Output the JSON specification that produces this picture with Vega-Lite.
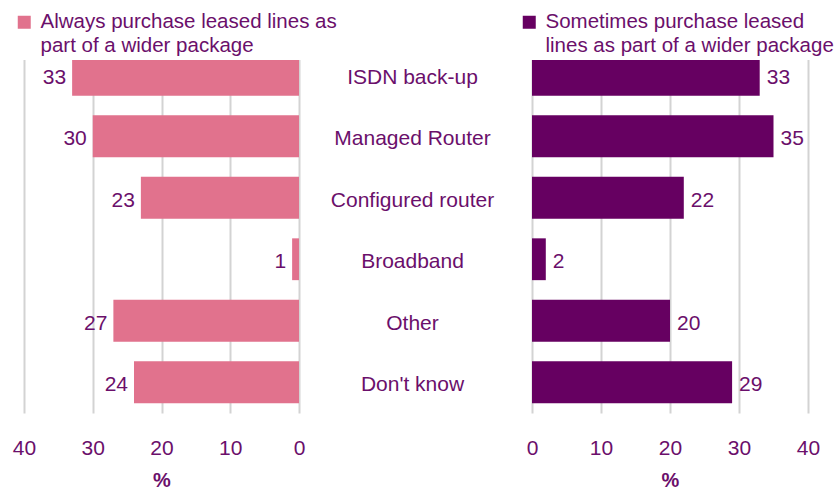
{
  "$schema": "https://vega.github.io/schema/vega-lite/v6.json",
  "padding": {"left": 11, "top": 9, "right": 0, "bottom": 0},
  "background": "white",
  "bounds": "flush",
  "spacing": 0,
  "config": {
    "font": "Liberation Sans",
    "view": {"stroke": null},
    "style": {"guide-label": {"lineHeight": 24}}
  },
  "data": {
    "values": [
      {"category": "ISDN back-up", "always": 33, "sometimes": 33},
      {"category": "Managed Router", "always": 30, "sometimes": 35},
      {"category": "Configured router", "always": 23, "sometimes": 22},
      {"category": "Broadband", "always": 1, "sometimes": 2},
      {"category": "Other", "always": 27, "sometimes": 20},
      {"category": "Don't know", "always": 24, "sometimes": 29}
    ]
  },
  "hconcat": [
    {
      "width": 275,
      "height": 369,
      "encoding": {
        "y": {"field": "category", "type": "nominal", "sort": null, "axis": null, "scale": {"paddingInner": 0.32, "paddingOuter": 0.16}},
        "x": {
          "field": "always", "type": "quantitative",
          "scale": {"domain": [0, 40], "reverse": true, "nice": false},
          "axis": {"values": [0, 10, 20, 30, 40], "grid": true, "gridColor": "#D3D3D3", "gridWidth": 2, "domain": false, "ticks": false, "labelFlush": false, "labelFontSize": 21, "labelColor": "#6B0F6B", "labelPadding": 24, "title": "%", "titleFontSize": 20, "titleFontWeight": "bold", "titleColor": "#6B0F6B", "titlePadding": 12}
        }
      },
      "layer": [
        {
          "mark": {"type": "bar"},
          "encoding": {
            "color": {
              "datum": "Always purchase leased lines as part of a wider package", "type": "nominal",
              "scale": {"range": ["#E1728D"]},
              "legend": {"orient": "none", "legendX": -13, "legendY": -35, "title": null, "symbolType": "square", "symbolSize": 169, "symbolStrokeWidth": 0, "labelFontSize": 20.5, "labelColor": "#6B0F6B", "labelLimit": 500, "labelOffset": 6, "labelExpr": "['Always purchase leased lines as', 'part of a wider package']", "fillColor": "white", "padding": 3, "zindex": 1}
            }
          }
        },
        {
          "mark": {"type": "text", "align": "right", "baseline": "middle", "dx": -6, "dy": 3, "fontSize": 21, "color": "#6B0F6B"},
          "encoding": {"text": {"field": "always", "type": "quantitative"}}
        }
      ]
    },
    {
      "width": 233,
      "height": 369,
      "mark": {"type": "text", "align": "center", "baseline": "middle", "dx": -3, "dy": 3, "fontSize": 21, "color": "#6B0F6B"},
      "encoding": {
        "y": {"field": "category", "type": "nominal", "sort": null, "axis": null, "scale": {"paddingInner": 0.32, "paddingOuter": 0.16}},
        "x": {"datum": 0, "type": "quantitative", "scale": {"domain": [-1, 1]}, "axis": null},
        "text": {"field": "category", "type": "nominal"}
      }
    },
    {
      "width": 276,
      "height": 369,
      "encoding": {
        "y": {"field": "category", "type": "nominal", "sort": null, "axis": null, "scale": {"paddingInner": 0.32, "paddingOuter": 0.16}},
        "x": {
          "field": "sometimes", "type": "quantitative",
          "scale": {"domain": [0, 40], "nice": false},
          "axis": {"values": [0, 10, 20, 30, 40], "grid": true, "gridColor": "#D3D3D3", "gridWidth": 2, "domain": false, "ticks": false, "labelFlush": false, "labelFontSize": 21, "labelColor": "#6B0F6B", "labelPadding": 24, "title": "%", "titleFontSize": 20, "titleFontWeight": "bold", "titleColor": "#6B0F6B", "titlePadding": 12}
        }
      },
      "layer": [
        {
          "mark": {"type": "bar"},
          "encoding": {
            "color": {
              "datum": "Sometimes purchase leased lines as part of a wider package", "type": "nominal",
              "scale": {"range": ["#660061"]},
              "legend": {"orient": "none", "legendX": -16, "legendY": -35, "title": null, "symbolType": "square", "symbolSize": 169, "symbolStrokeWidth": 0, "labelFontSize": 20.5, "labelColor": "#6B0F6B", "labelLimit": 500, "labelOffset": 6, "labelExpr": "['Sometimes purchase leased', 'lines as part of a wider package']", "fillColor": "white", "padding": 3, "zindex": 1}
            }
          }
        },
        {
          "mark": {"type": "text", "align": "left", "baseline": "middle", "dx": 7, "dy": 3, "fontSize": 21, "color": "#6B0F6B"},
          "encoding": {"text": {"field": "sometimes", "type": "quantitative"}}
        }
      ]
    }
  ],
  "resolve": {"scale": {"color": "independent"}, "legend": {"color": "independent"}}
}
